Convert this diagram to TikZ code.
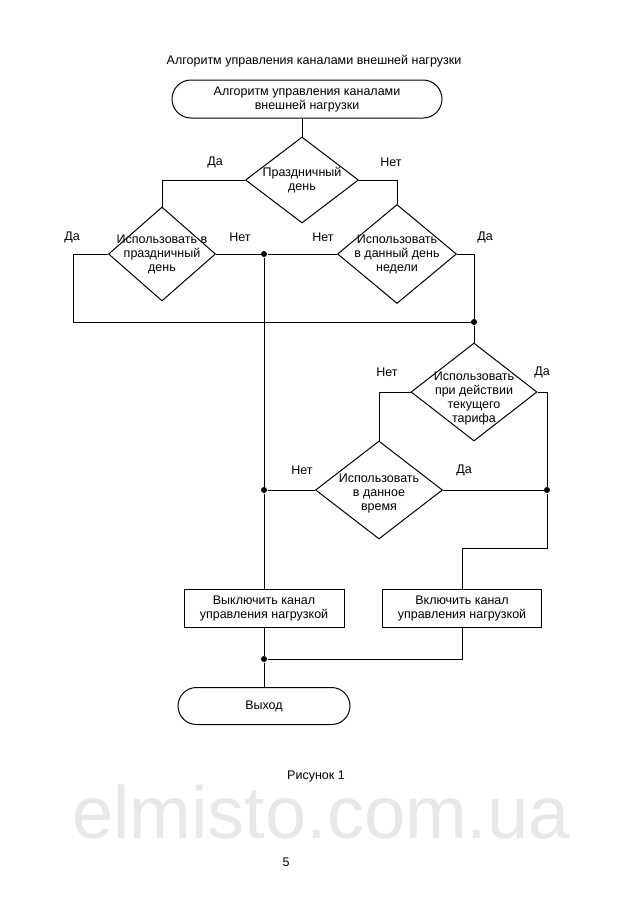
\documentclass[tikz,border=0pt]{standalone}
\usepackage{fontspec}
\setmainfont{Liberation Sans}
\usetikzlibrary{shapes.geometric,shapes.misc}

\tikzset{every picture/.style={line width=1pt}}
\tikzset{
	lab/.style={align=center, inner sep=0pt, font=\fontsize{12.5}{14}\selectfont},
	dia/.style={diamond, draw, inner sep=0pt},
	term/.style={rounded rectangle, draw, lab, minimum height=38pt},
	act/.style={rectangle, draw, lab, minimum width=160pt, minimum height=38pt},
	dot/.style={circle, fill, inner sep=0pt, minimum size=6pt}
}

\begin{document}
\begin{tikzpicture}[x=1pt,y=-1pt]
			\useasboundingbox (0,0) rectangle (640,913);
			% watermark
			\node [font=\fontsize{74}{74}\selectfont, text=black!9, inner sep=0pt] (mark) at (321,812) {elmisto.com.ua};
			% title
			\node [lab] (title) at (314,61) {Алгоритм управления каналами внешней нагрузки};
			\node [term, minimum width=270pt] (start) at (307,99) {Алгоритм управления каналами\\внешней нагрузки};
			% decisions
			\node [dia, minimum width=113pt, minimum height=86pt, label={[lab]center:{Праздничный\\день}}] (holiday) at (302,180) {};
			\node [dia, minimum width=107pt, minimum height=94pt, label={[lab]center:{Использовать в\\праздничный\\день}}] (useholiday) at (162,254) {};
			\node [dia, minimum width=119pt, minimum height=99pt, label={[lab]center:{Использовать\\в данный день\\недели}}] (useweekday) at (397,254) {};
			\node [dia, minimum width=126pt, minimum height=98pt, label={[lab, yshift=-6pt]center:{Использовать\\при действии\\текущего\\тарифа}}] (tariff) at (474,392) {};
			\node [dia, minimum width=127pt, minimum height=98pt, label={[lab, yshift=-3pt]center:{Использовать\\в данное\\время}}] (usetime) at (379,490) {};
			% actions
			\node [act] (off) at (264,608) {Выключить канал\\управления нагрузкой};
			\node [act, minimum width=159pt] (on) at (462,608) {Включить канал\\управления нагрузкой};
			\node [term, minimum width=172pt, minimum height=37pt] (exit) at (264,706) {Выход};
			% junctions
			\node [dot] (j1) at (264,254) {};
			\node [dot] (j2) at (474,322) {};
			\node [dot] (j3) at (264,490) {};
			\node [dot] (j4) at (547,490) {};
			\node [dot] (j5) at (264,659) {};
			% connectors
			\draw (holiday.north |- start.south) -- (holiday.north);
			\draw (holiday.west) -| (useholiday.north);
			\draw (holiday.east) -| (useweekday.north);
			\draw (useholiday.west) -- ++(-35,0) |- (j2);
			\draw (useholiday.east) -- (j1) -- (useweekday.west);
			\draw (useweekday.east) -| (j2);
			\draw (j1) -- (j3) -- (off);
			\draw (j2) -- (tariff);
			\draw (tariff.west) -| (usetime.north);
			\draw (tariff.east) -| (j4);
			\draw (usetime.west) -- (j3);
			\draw (usetime.east) -- (j4);
			\draw (j4) -- ++(0,58) -| (on.north);
			\draw (off) -- (j5) -- (exit);
			\draw (on.south) |- (j5);
			% branch labels
			\node [lab] (yes1) at (215,162) {Да};
			\node [lab] (no1) at (391,162) {Нет};
			\node [lab] (yes2) at (72,237) {Да};
			\node [lab] (no2) at (240,237) {Нет};
			\node [lab] (no3) at (323,237) {Нет};
			\node [lab] (yes3) at (485,237) {Да};
			\node [lab] (no4) at (387,372) {Нет};
			\node [lab] (yes4) at (542,372) {Да};
			\node [lab] (no5) at (302,470) {Нет};
			\node [lab] (yes5) at (464,470) {Да};
			% caption
			\node [lab] (caption) at (316,776) {Рисунок 1};
			\node [lab] (page) at (286,862) {5};
		\end{tikzpicture}
\end{document}
